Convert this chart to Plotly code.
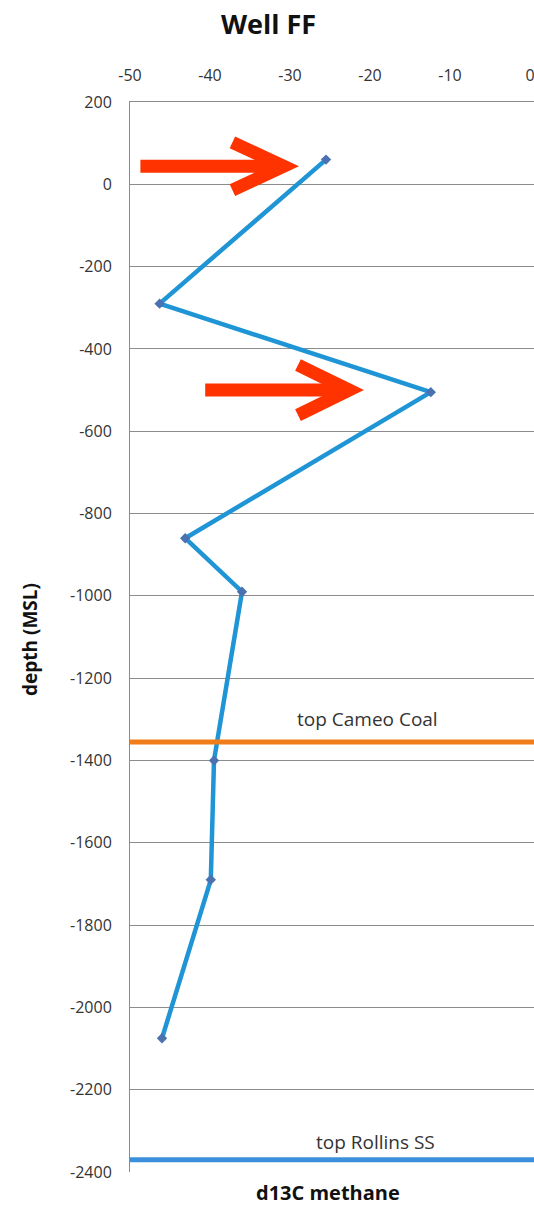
import plotly.graph_objects as go

# Data
d13c = [-25.5, -46.3, -12.4, -43.1, -36.0, -39.5, -39.9, -46.0]
depth = [60, -290, -505, -860, -990, -1400, -1690, -2075]
x_ticks = [-50, -40, -30, -20, -10, 0]
y_ticks = list(range(-2400, 201, 200))
cameo_depth = -1355
rollins_depth = -2370
cameo_label = "top Cameo Coal"
rollins_label = "top Rollins SS"

# arrows (data coordinates): shaft start x, shaft end x, tip x, arm-back x, y, arm half-height
arrows = [
    dict(x0=-48.7, x1=-32.6, tip=-30.8, back=-37.2, y=44, h=58),
    dict(x0=-40.6, x1=-24.4, tip=-22.6, back=-29.0, y=-500, h=61),
]

FONT = "Open Sans"
fig = go.Figure()
fig.add_trace(go.Scatter(
    x=d13c, y=depth, mode="lines+markers",
    line=dict(color="#1F95D6", width=4.5),
    marker=dict(symbol="diamond", size=8, color="#4A72B0"),
    showlegend=False, hoverinfo="skip",
))

shapes = [
    dict(type="line", xref="x domain", yref="y", x0=0, x1=1, y0=cameo_depth, y1=cameo_depth,
         line=dict(color="#F07D1A", width=5), layer="above"),
    dict(type="line", xref="x domain", yref="y", x0=0, x1=1, y0=rollins_depth, y1=rollins_depth,
         line=dict(color="#3A90DA", width=5), layer="above"),
]
RED = "#FF3300"
for a in arrows:
    shapes.append(dict(type="line", xref="x", yref="y", x0=a["x0"], x1=a["x1"], y0=a["y"], y1=a["y"],
                       line=dict(color=RED, width=13), layer="above"))
    shapes.append(dict(type="path", xref="x", yref="y",
                       path=f"M {a['back']},{a['y']+a['h']} L {a['tip']},{a['y']} L {a['back']},{a['y']-a['h']}",
                       line=dict(color=RED, width=13), layer="above"))

annotations = [
    dict(text="<b>Well FF</b>", xref="paper", yref="paper", x=(268 - 130) / 404, y=1 + (102 - 23) / 1070,
         showarrow=False, font=dict(size=27, color="#111111", family=FONT), xanchor="center", yanchor="middle"),
    dict(text="<b>d13C methane</b>", xref="paper", yref="paper", x=(328 - 130) / 404, y=-(1192 - 1172) / 1070,
         showarrow=False, font=dict(size=20, color="#111111", family=FONT), xanchor="center", yanchor="middle"),
    dict(text="<b>depth (MSL)</b>", xref="paper", yref="paper", x=-(130 - 30) / 404, y=(1172 - 640) / 1070,
         showarrow=False, textangle=-90, font=dict(size=19, color="#111111", family=FONT),
         xanchor="center", yanchor="middle"),
    dict(text=cameo_label, xref="paper", yref="y", x=(367 - 130) / 404, y=cameo_depth, yshift=23,
         showarrow=False, font=dict(size=19, color="#333333", family=FONT), xanchor="center", yanchor="middle"),
    dict(text=rollins_label, xref="paper", yref="y", x=(375 - 130) / 404, y=rollins_depth, yshift=18,
         showarrow=False, font=dict(size=19, color="#333333", family=FONT), xanchor="center", yanchor="middle"),
]

fig.update_layout(
    width=534, height=1206,
    margin=dict(l=130, r=0, t=102, b=34),
    paper_bgcolor="white", plot_bgcolor="white",
    shapes=shapes, annotations=annotations,
    xaxis=dict(side="top", range=[-50, 0.5], tickvals=x_ticks, ticktext=[str(v) for v in x_ticks],
               showgrid=False, zeroline=False, showline=True, linecolor="#8C8C8C", linewidth=1,
               ticks="", ticklabelstandoff=14, ticklabeloverflow="allow",
               tickfont=dict(size=16, color="#333333", family=FONT)),
    yaxis=dict(range=[-2400, 200], tickvals=y_ticks, ticktext=[str(v) for v in y_ticks],
               showgrid=True, gridcolor="#8C8C8C", gridwidth=1, zeroline=False,
               showline=True, linecolor="#8C8C8C", linewidth=1, ticks="", ticklabelstandoff=14,
               tickfont=dict(size=16, color="#333333", family=FONT)),
)
fig.write_html(
    "out.html",
    config={"displayModeBar": False},
    post_script="document.body.style.margin='0';document.body.style.padding='0';"
                "document.documentElement.style.overflow='hidden';",
)
